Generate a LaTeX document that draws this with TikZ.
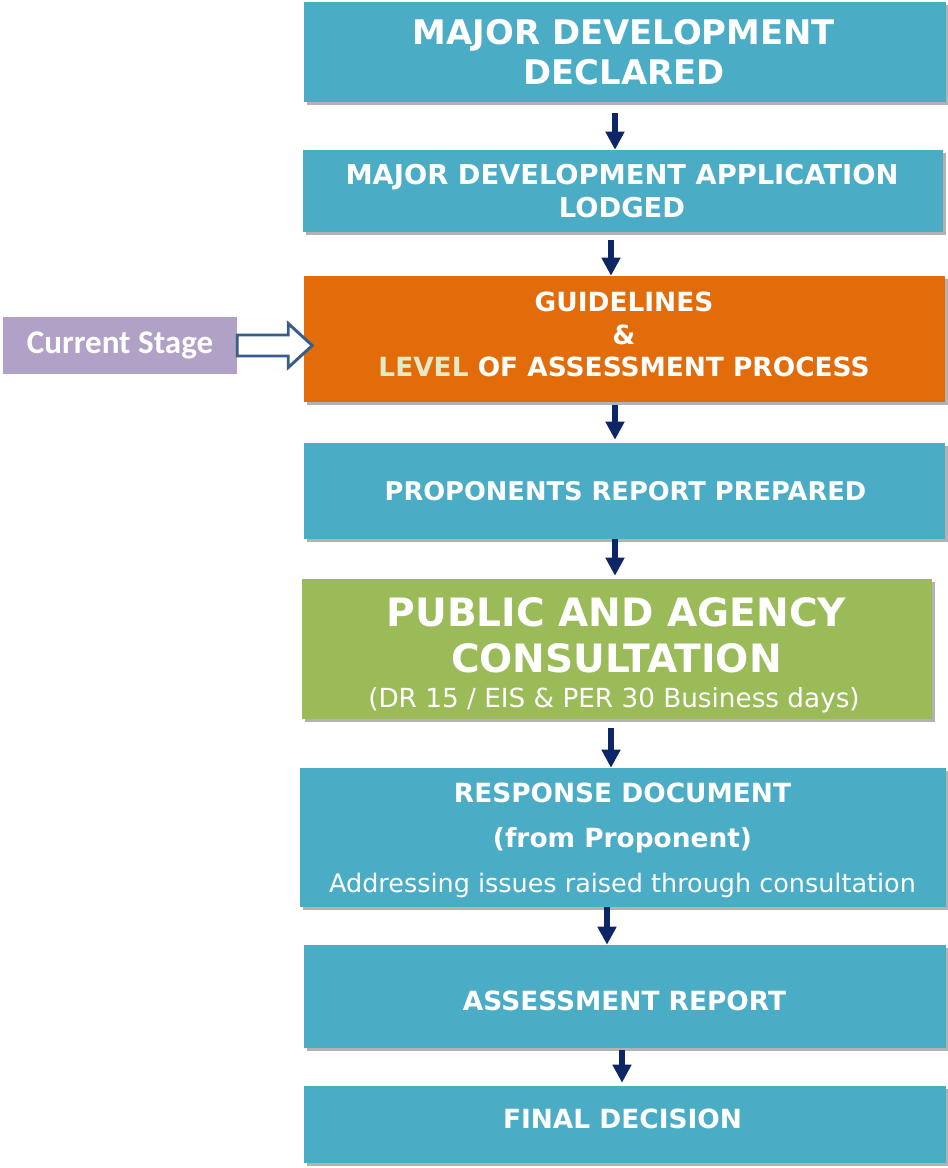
\documentclass[tikz,border=0pt]{standalone}
\usepackage{fontspec}
\setmainfont{DejaVu Sans}
\newfontfamily\calfont{Carlito}
\usetikzlibrary{arrows.meta,shadows}

\definecolor{boxteal}{HTML}{4BACC6}
\definecolor{boxorange}{HTML}{E36C0A}
\definecolor{boxgreen}{HTML}{9BBB59}
\definecolor{boxpurple}{HTML}{B2A1C7}
\definecolor{arrownavy}{HTML}{0D2667}
\definecolor{outlineblue}{HTML}{385D8A}
\definecolor{levelcol}{HTML}{E4EAC6}

\tikzset{
  stagebox/.style={fill=#1, draw=none, inner sep=0pt,
    drop shadow={shadow xshift=2.2pt, shadow yshift=-2.2pt, fill=black, opacity=0.3}},
  boxtext/.style={inner sep=0pt, align=center, text=white,
    font=\bfseries\fontsize{19.8}{24.4}\selectfont},
  flow/.style={draw=arrownavy, line width=4.5pt, -{Triangle[width=13.5pt,length=13.5pt]}},
  hollowarrow/.style={draw=outlineblue, fill=white, line width=2.2pt, line join=miter},
}

\begin{document}
\begin{tikzpicture}[x=0.75pt, y=-0.75pt]
\useasboundingbox (0,0) rectangle (948,1168);

% process stages
\node[stagebox=boxteal,   minimum width=481.5pt,  minimum height=75pt]    (b1) at (625,52) {};
\node[stagebox=boxteal,   minimum width=480pt,    minimum height=61.5pt]  (b2) at (623,191) {};
\node[stagebox=boxorange, minimum width=480.75pt, minimum height=94.5pt]  (b3) at (624.5,339) {};
\node[stagebox=boxteal,   minimum width=480.75pt, minimum height=72pt]    (b4) at (624.5,491) {};
\node[stagebox=boxgreen,  minimum width=472.5pt,  minimum height=105pt]   (b5) at (617,649) {};
\node[stagebox=boxteal,   minimum width=484.5pt,  minimum height=104.25pt](b6) at (623,837.5) {};
\node[stagebox=boxteal,   minimum width=481.5pt,  minimum height=77.25pt] (b7) at (625,996.5) {};
\node[stagebox=boxteal,   minimum width=481.5pt,  minimum height=57.75pt] (b8) at (625,1124.5) {};

% stage captions
\node[boxtext, font=\bfseries\fontsize{25.4}{30}\selectfont] (t1) at (624,52)
  {MAJOR DEVELOPMENT\\DECLARED};
\node[boxtext, font=\bfseries\fontsize{20.5}{24.75}\selectfont] (t2) at (622,191.5)
  {MAJOR DEVELOPMENT APPLICATION\\LODGED};
\node[boxtext] (t3) at (624,334.5)
  {GUIDELINES\\\&\\{\color{levelcol}LEVEL} OF ASSESSMENT PROCESS};
\node[boxtext, font=\bfseries\fontsize{19.3}{24}\selectfont] (t4) at (625.5,491)
  {PROPONENTS REPORT PREPARED};
\node[boxtext, font=\bfseries\fontsize{29.3}{34.5}\selectfont] (t5) at (616.5,635)
  {PUBLIC AND AGENCY\\CONSULTATION};
\node[boxtext, font=\fontsize{19.7}{24}\selectfont] (t5s) at (614,700.5)
  {(DR 15 / EIS \& PER 30 Business days)};
\node[boxtext, font=\bfseries\fontsize{19.8}{33.75}\selectfont] (t6) at (622.5,840.5)
  {RESPONSE DOCUMENT\\(from Proponent)\\
   {\mdseries\fontsize{19.1}{33.75}\selectfont Addressing issues raised through consultation}};
\node[boxtext] (t7) at (624.5,1001) {ASSESSMENT REPORT};
\node[boxtext] (t8) at (622.5,1119) {FINAL DECISION};

% marker for the current stage
\node[fill=boxpurple, inner sep=0pt, minimum width=175.5pt, minimum height=42.75pt,
  text=white, font=\calfont\bfseries\fontsize{24.8}{30}\selectfont]
  (cs) at (120,345.5) {\raisebox{-1.5pt}{Current Stage}};
\draw[hollowarrow] (cs.east) ++(0,-10.5) -- ++(51,0) -- ++(0,-11.5)
  -- ++(24,22) -- ++(-24,22) -- ++(0,-11.5) -- ++(-51,0) -- cycle;

% flow between stages
\draw[flow, shorten <=8.25pt] ([xshift=-7.5pt]b1.south) -- ([xshift=-6pt]b2.north);
\draw[flow, shorten <=6pt] ([xshift=-9pt]b2.south) -- ([xshift=-10.125pt]b3.north);
\draw[flow, shorten <=2.25pt, shorten >=2.25pt] ([xshift=-7.125pt]b3.south) -- ([xshift=-7.125pt]b4.north);
\draw[flow, shorten >=2.25pt] ([xshift=-7.125pt]b4.south) -- ([xshift=-1.5pt]b5.north);
\draw[flow, shorten <=6.75pt] ([xshift=-4.5pt]b5.south) -- ([xshift=-9pt]b6.north);
\draw[flow] ([xshift=-12pt]b6.south) -- ([xshift=-13.5pt]b7.north);
\draw[flow, shorten <=1.5pt, shorten >=2.25pt] ([xshift=-2.25pt]b7.south) -- ([xshift=-2.25pt]b8.north);
\end{tikzpicture}
\end{document}
